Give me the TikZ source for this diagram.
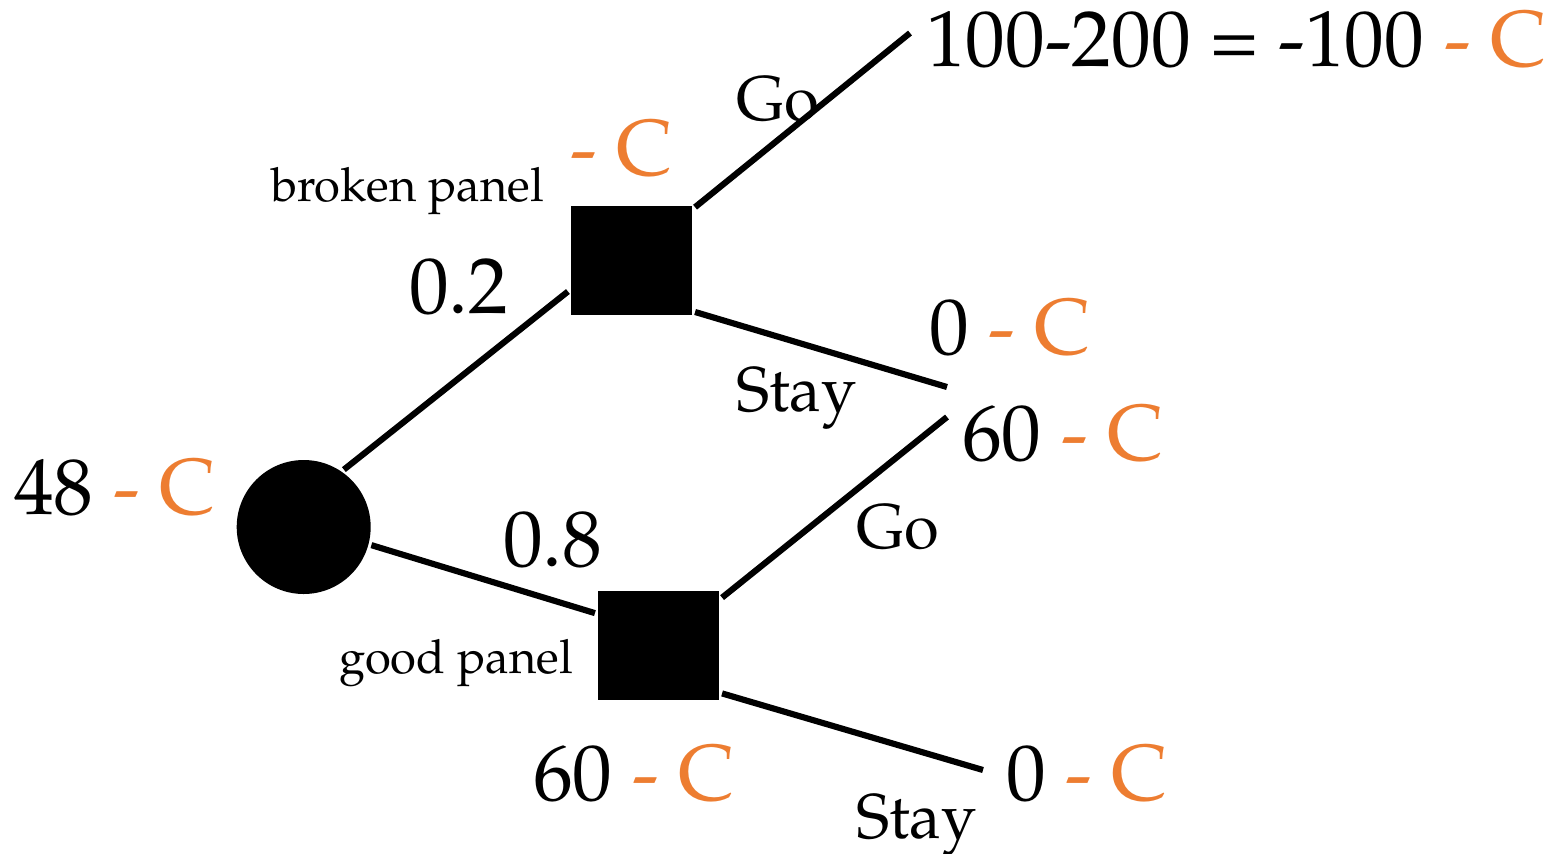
\documentclass[tikz,border=0pt]{standalone}
\IfFileExists{mathpazo.sty}{%
  \usepackage[T1]{fontenc}
  \usepackage{mathpazo}
}{%
  \usepackage{fontspec}
  \setmainfont{Liberation Serif}
}
\usetikzlibrary{positioning}
\definecolor{costorange}{RGB}{237,125,49}
\newcommand{\cost}{\textcolor{costorange}{- C}}

\begin{document}
\begin{tikzpicture}[x=0.1mm, y=-0.1mm, line width=1.75pt,
      chance/.style={circle, fill=black, minimum size=13.4mm, inner sep=0pt},
      decision/.style={rectangle, fill=black, minimum width=12.1mm, minimum height=10.9mm, inner sep=0pt},
      val/.style={anchor=base west, inner sep=0pt, font=\fontsize{22.6}{26}\selectfont},
      choice/.style={anchor=base west, inner sep=0pt, font=\fontsize{18}{21}\selectfont},
      outcome/.style={anchor=base west, inner sep=0pt, font=\fontsize{13.4}{16}\selectfont}]
    \useasboundingbox (0,0) rectangle (1557,853);

    \node[chance] (root) at (303.7,527) {};
    \node[decision] (brk) at (631.5,260.5) {};
    \node[decision] (good) at (658.5,645.5) {};

    \coordinate (brkgo) at (910,33);
    \coordinate (brkstay) at (947,387);
    \coordinate (goodgo) at (947,417);
    \coordinate (goodstay) at (983,770);

    \draw (root.55) -- (brk.206);
    \draw (root.-15) -- (good.153);
    \draw (brk.40) -- (brkgo);
    \draw (brk.-39) -- (brkstay);
    \draw (good.37) -- (goodgo);
    \draw (good.-37) -- (goodstay);

    \node[val] (rootval) at (11,514) {48 \cost};
    \node[val] (ptop) at (406,313) {0.2};
    \node[val] (pbot) at (500,566) {0.8};
    \node[outcome] (brklbl) at (268,201) {broken panel};
    \node[outcome] (goodlbl) at (336,673) {good panel};
    \node[val] (brkval) at (567,175) {\cost};
    \node[val] (goodval) at (530,800) {60 \cost};

    \node[choice] (gotop) at (733,120) {Go};
    \node[choice] (staytop) at (733,411) {Stay};
    \node[choice] (gobot) at (853,548) {Go};
    \node[choice] (staybot) at (853,838) {Stay};

    \node[val] (brkgoval) at (923,66) {100-200 = -100 \cost};
    \node[val] (brkstayval) at (926,354) {0 \cost};
    \node[val] (goodgoval) at (959,460) {60 \cost};
    \node[val] (goodstayval) at (1003,800) {0 \cost};
  \end{tikzpicture}
\end{document}
